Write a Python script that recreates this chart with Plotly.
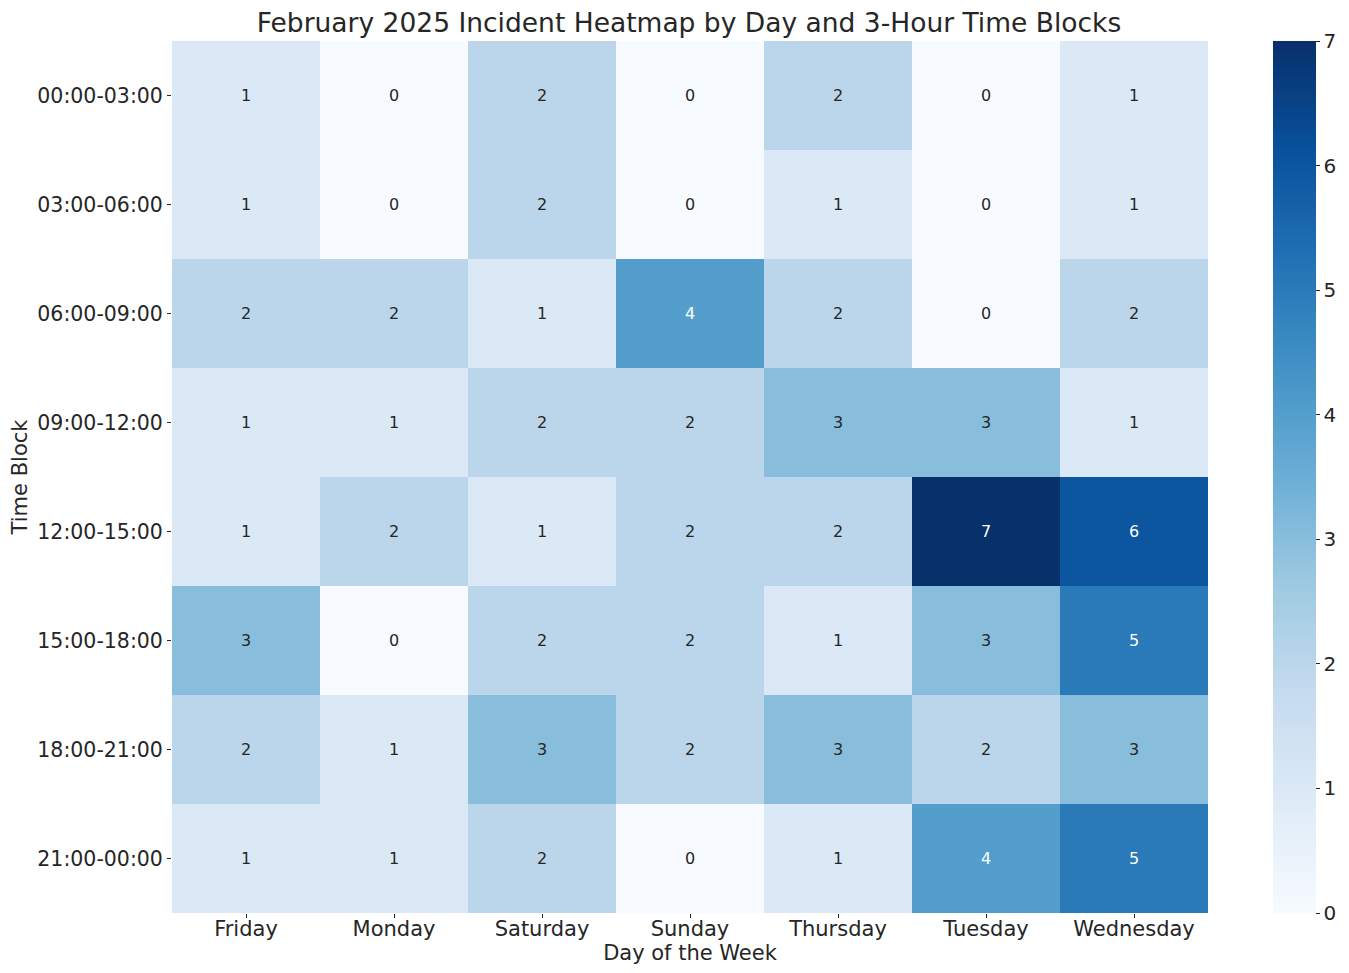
import plotly.graph_objects as go

days = ["Friday", "Monday", "Saturday", "Sunday", "Thursday", "Tuesday", "Wednesday"]
blocks = ["00:00-03:00", "03:00-06:00", "06:00-09:00", "09:00-12:00",
          "12:00-15:00", "15:00-18:00", "18:00-21:00", "21:00-00:00"]
counts = [
    [1, 0, 2, 0, 2, 0, 1],
    [1, 0, 2, 0, 1, 0, 1],
    [2, 2, 1, 4, 2, 0, 2],
    [1, 1, 2, 2, 3, 3, 1],
    [1, 2, 1, 2, 2, 7, 6],
    [3, 0, 2, 2, 1, 3, 5],
    [2, 1, 3, 2, 3, 2, 3],
    [1, 1, 2, 0, 1, 4, 5],
]

blues = ["#f7fbff", "#deebf7", "#c6dbef", "#9ecae1", "#6baed6",
         "#4292c6", "#2171b5", "#08519c", "#08306b"]
colorscale = [[i / (len(blues) - 1), c] for i, c in enumerate(blues)]

font = "DejaVu Sans, Verdana, sans-serif"
txt = "#262626"

W, H = 1333, 957

fig = go.Figure(go.Heatmap(
    z=counts, x=days, y=blocks, colorscale=colorscale, zmin=0, zmax=7,
    colorbar=dict(
        thickness=43, len=1, lenmode="fraction", y=0, yanchor="bottom",
        x=(1273 - 172) / (1208 - 172), xanchor="left", outlinewidth=0,
        xpad=0, ypad=0,
        tickvals=list(range(8)), ticks="outside", ticklen=4,
        tickcolor=txt, tickfont=dict(size=20, color=txt, family=font),
    ),
    hoverinfo="z",
))

annotations = []
for i, b in enumerate(blocks):
    for j, d in enumerate(days):
        v = counts[i][j]
        annotations.append(dict(
            x=d, y=b, xref="x", yref="y", text=str(v), showarrow=False,
            font=dict(size=16, family=font, color="white" if v >= 4 else txt),
        ))

fig.update_layout(
    width=W, height=H,
    margin=dict(l=164, r=133, t=33, b=52, autoexpand=False),
    paper_bgcolor="white", plot_bgcolor="white",
    font=dict(family=font, color=txt),
    title=dict(text="February 2025 Incident Heatmap by Day and 3-Hour Time Blocks",
               x=(689 - 8) / W, xanchor="center", y=1 - 15 / H, yanchor="middle",
               font=dict(size=26.5, color=txt, family=font)),
    annotations=annotations,
    xaxis=dict(title=dict(text="Day of the Week", font=dict(size=21), standoff=2),
               tickfont=dict(size=21), ticks="outside", ticklen=4, tickcolor=txt,
               ticklabelstandoff=-7,
               showgrid=False, zeroline=False, automargin=False),
    yaxis=dict(title=dict(text="Time Block", font=dict(size=21), standoff=4),
               tickfont=dict(size=20.5), ticks="outside", ticklen=4, tickcolor=txt,
               autorange="reversed", showgrid=False, zeroline=False, automargin=False),
)

fig.write_html("out.html")
